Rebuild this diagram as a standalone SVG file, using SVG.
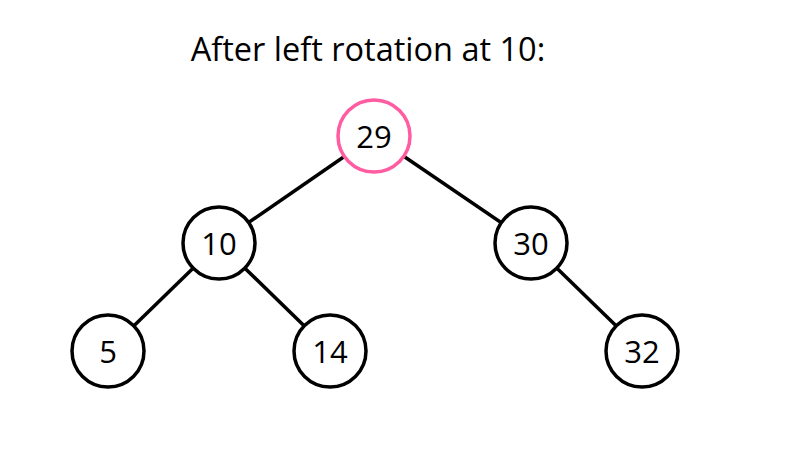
<svg xmlns="http://www.w3.org/2000/svg" width="794" height="450" viewBox="0 0 794 450">
<style>
.edge{stroke:#000;stroke-width:3.5;fill:none}
.node circle{fill:#fff;stroke:#000;stroke-width:3.5}
.node.hl circle{stroke:#ff5ca1}
.lbl{font-family:"Open Sans","Noto Sans","Liberation Sans",sans-serif;font-size:31px;fill:#000;text-anchor:middle;dominant-baseline:central}
.title{font-family:"Open Sans","Noto Sans","Liberation Sans",sans-serif;font-size:32.5px;fill:#000;text-anchor:middle}
</style>
<rect width="794" height="450" fill="#fff"/>
<text class="title" x="368" y="61">After left rotation at 10:</text>
<g id="connectors">
<line class="edge" x1="374" y1="136" x2="219" y2="243"/>
<line class="edge" x1="374" y1="136" x2="531" y2="243"/>
<line class="edge" x1="219" y1="243" x2="108" y2="351"/>
<line class="edge" x1="219" y1="243" x2="330" y2="351"/>
<line class="edge" x1="531" y1="243" x2="642" y2="351"/>
</g>
<g id="n29" class="node hl"><circle cx="374" cy="136" r="36"/><text class="lbl" x="374" y="136">29</text></g>
<g id="n10" class="node"><circle cx="219" cy="243" r="36"/><text class="lbl" x="219" y="243">10</text></g>
<g id="n30" class="node"><circle cx="531" cy="243" r="36"/><text class="lbl" x="531" y="243">30</text></g>
<g id="n5" class="node"><circle cx="108" cy="351" r="36"/><text class="lbl" x="108" y="351">5</text></g>
<g id="n14" class="node"><circle cx="330" cy="351" r="36"/><text class="lbl" x="330" y="351">14</text></g>
<g id="n32" class="node"><circle cx="642" cy="351" r="36"/><text class="lbl" x="642" y="351">32</text></g>
</svg>
